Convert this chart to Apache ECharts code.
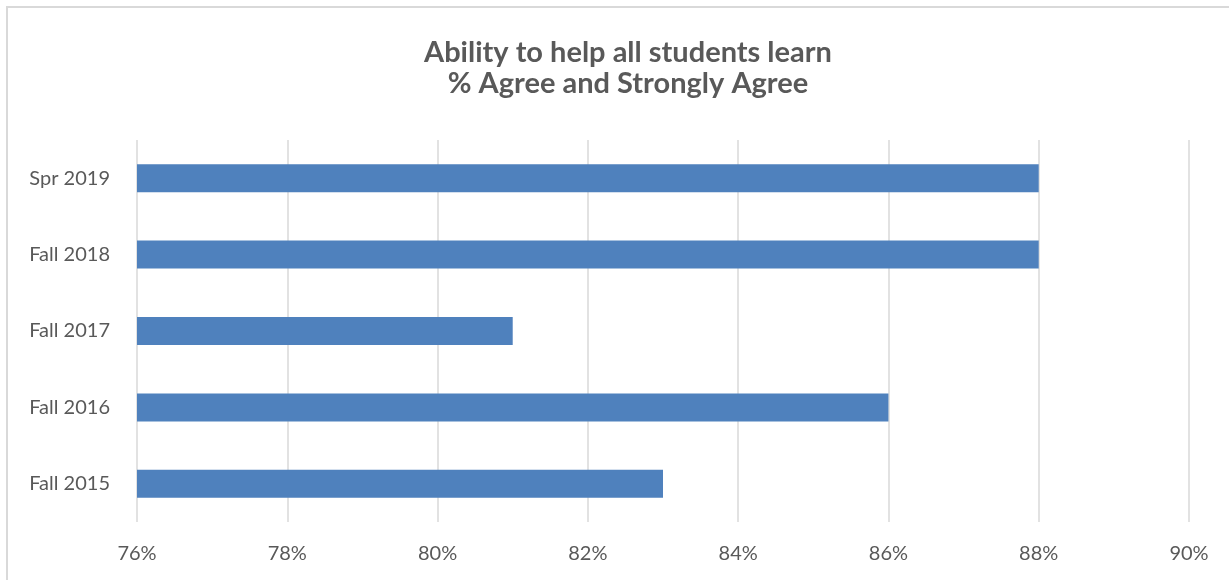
<!DOCTYPE html>
<html>
<head>
<meta charset="utf-8">
<script src="https://cdn.jsdelivr.net/npm/echarts@6/dist/echarts.min.js"></script>
<style>
html,body{margin:0;padding:0;background:#fff;}
#chart{width:1229px;height:580px;}
</style>
</head>
<body>
<div id="chart"></div>
<script>
const categories = ['Fall 2015', 'Fall 2016', 'Fall 2017', 'Fall 2018', 'Spr 2019'];
const values = [83, 86, 81, 88, 88];
const xMin = 76, xMax = 90, xStep = 2;
const titleText = 'Ability to help all students learn\n% Agree and Strongly Agree';

const chart = echarts.init(document.getElementById('chart'), null, {renderer: 'canvas'});
chart.setOption({
  animation: false,
  backgroundColor: '#ffffff',
  graphic: [{
    type: 'rect',
    z: -1,
    shape: {x: 7, y: 7, width: 1400, height: 800},
    style: {fill: 'none', stroke: '#d9d9d9', lineWidth: 2}
  }],
  title: {
    text: titleText,
    left: 623,
    top: 32,
    textAlign: 'center',
    textStyle: {
      fontFamily: 'Lato',
      fontWeight: 'bold',
      fontSize: 29,
      lineHeight: 31,
      color: '#595959'
    }
  },
  grid: {left: 137, right: 40, top: 140, bottom: 58, containLabel: false},
  xAxis: {
    type: 'value',
    min: xMin,
    max: xMax,
    interval: xStep,
    axisLine: {show: false},
    axisTick: {show: false},
    axisLabel: {
      formatter: '{value}%',
      margin: 22,
      fontFamily: 'Lato',
      fontSize: 20,
      color: '#595959'
    },
    splitLine: {show: true, lineStyle: {color: '#d9d9d9', width: 1.5}}
  },
  yAxis: {
    type: 'category',
    data: categories,
    axisLine: {show: false},
    axisTick: {show: false},
    axisLabel: {
      margin: 27,
      fontFamily: 'Lato',
      fontSize: 20,
      color: '#595959'
    },
    splitLine: {show: false}
  },
  series: [{
    type: 'bar',
    data: values,
    barWidth: 28,
    itemStyle: {color: '#4f81bd'}
  }]
});
</script>
</body>
</html>
